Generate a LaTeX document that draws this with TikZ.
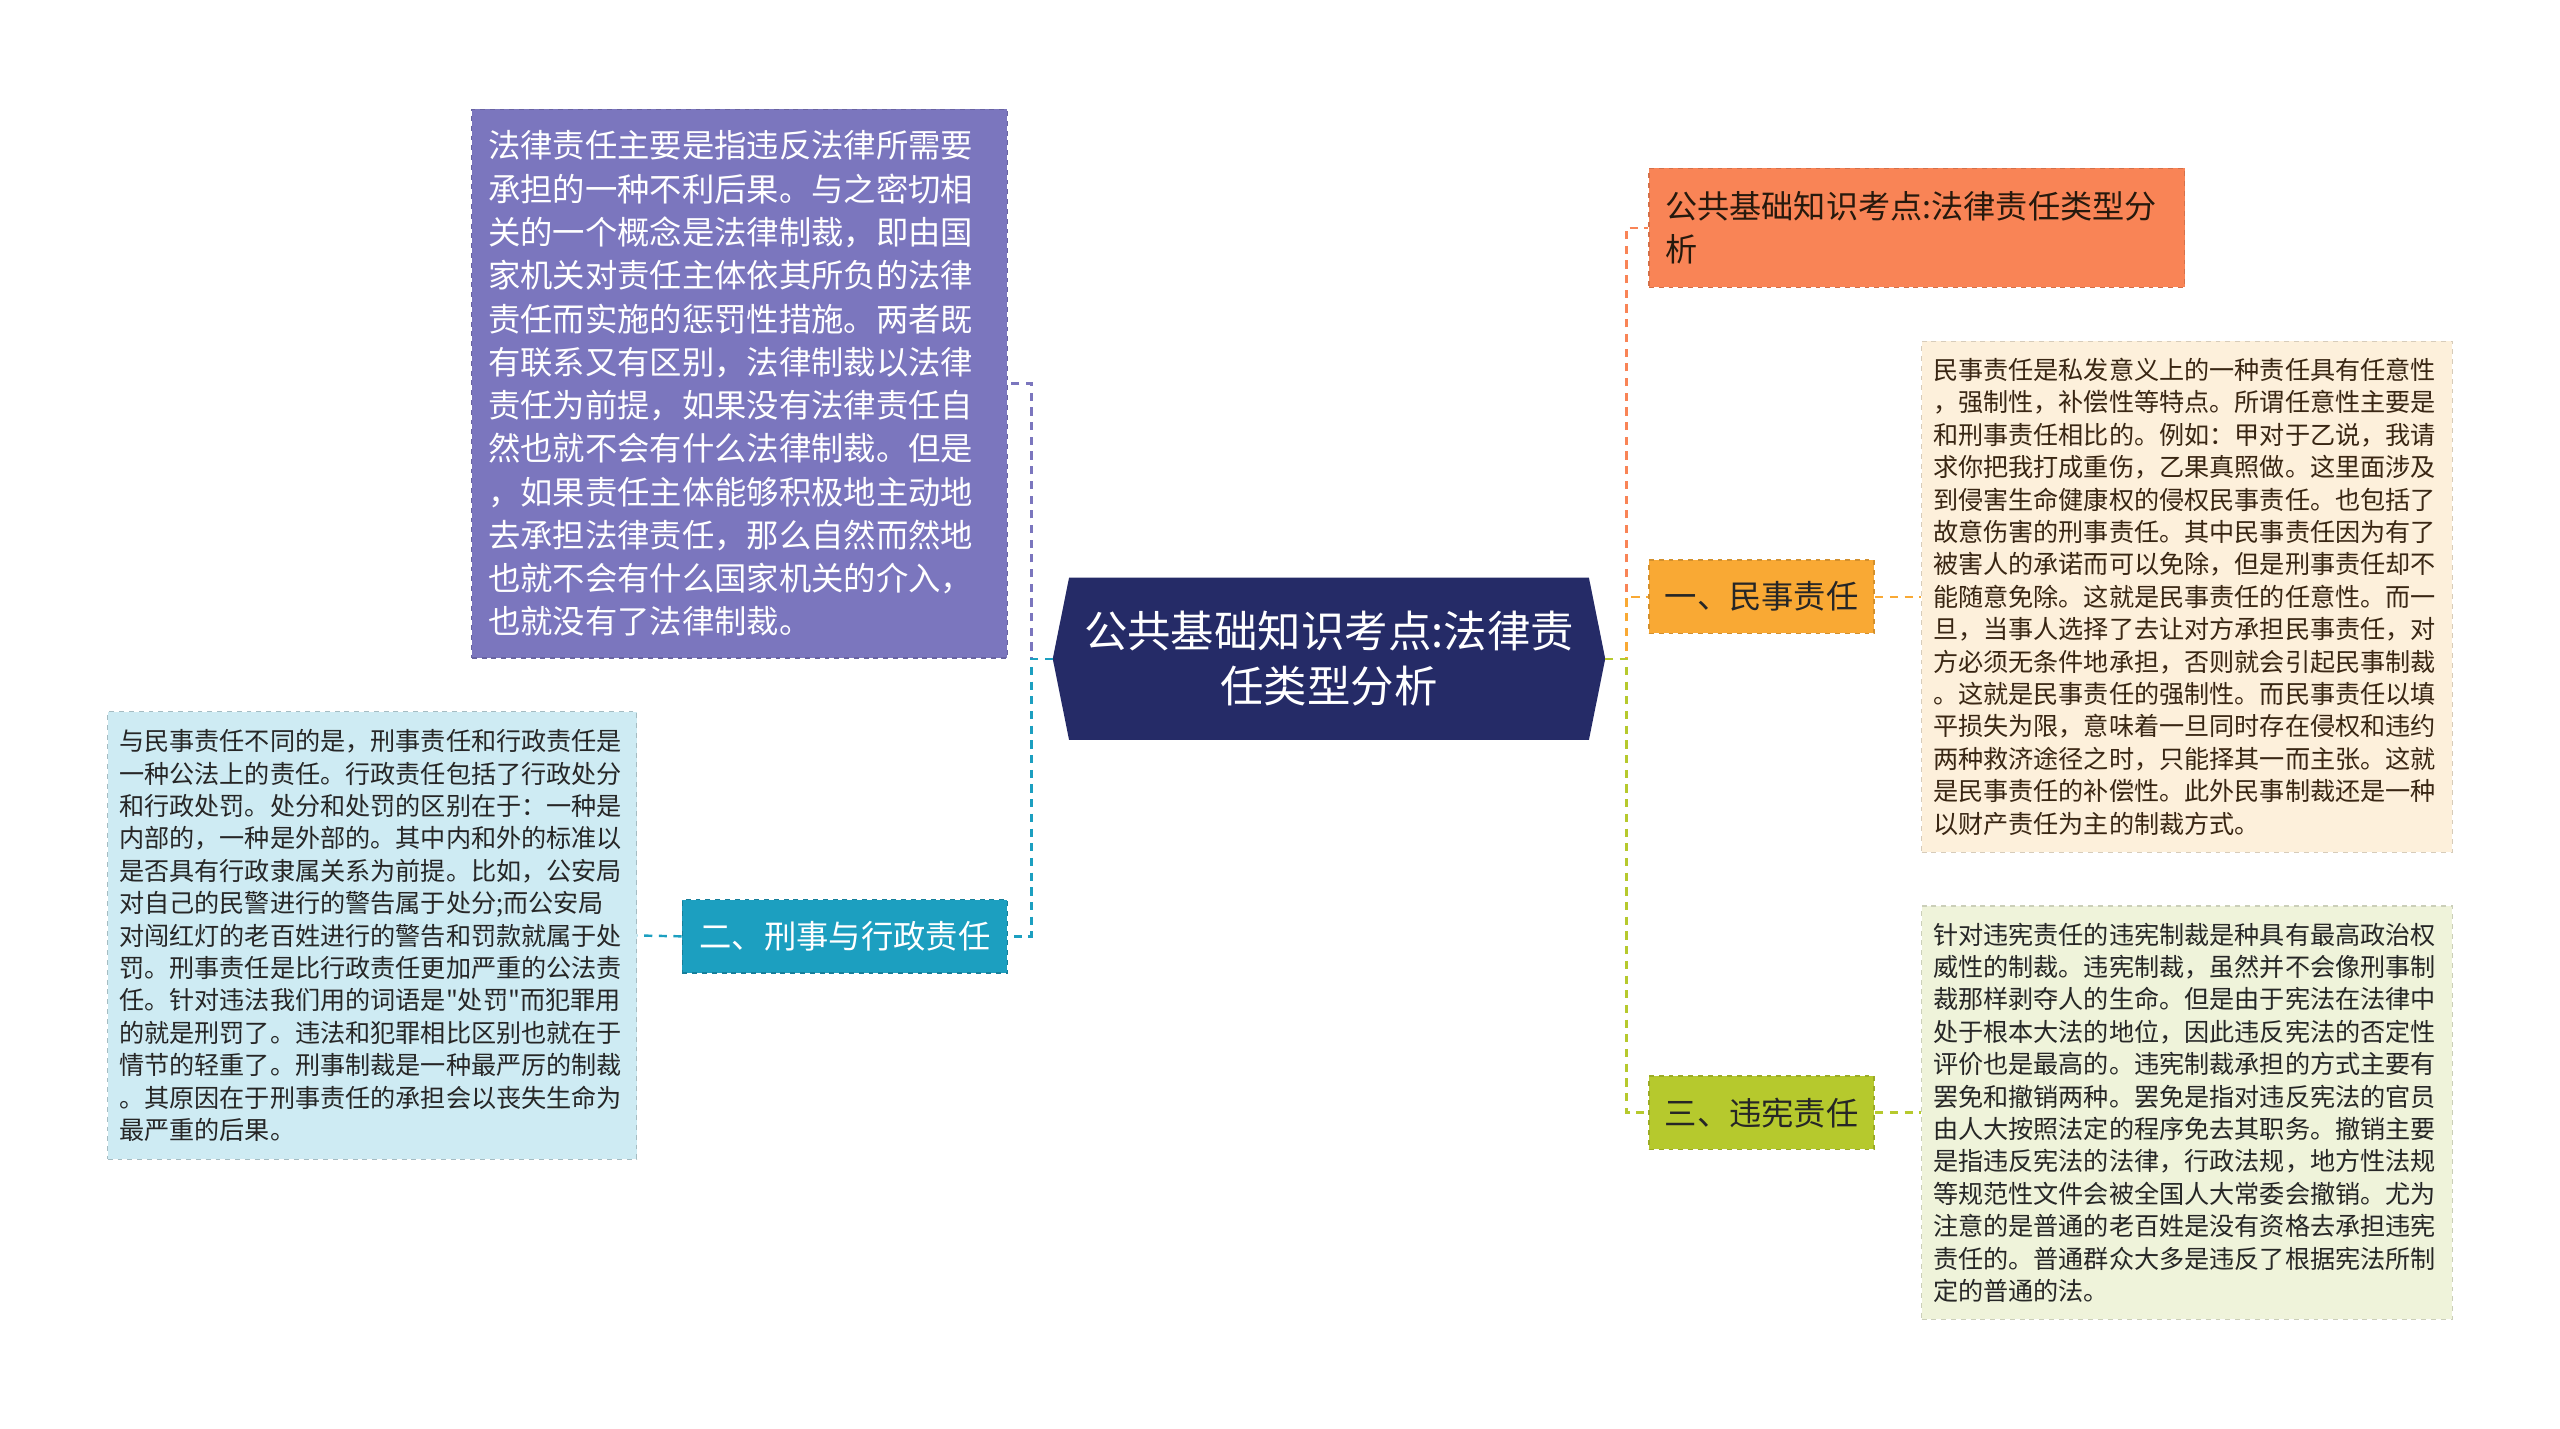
\documentclass[tikz,border=0pt]{standalone}
\usepackage{fontspec}
\newfontfamily\cjk{Noto Sans CJK SC}
\usetikzlibrary{calc}
\pgfdeclarelayer{background}
\pgfsetlayers{background,main}

\definecolor{rootnavy}{HTML}{252B67}
\definecolor{lawpurple}{HTML}{7B76BE}
\definecolor{lawteal}{HTML}{1C9FC0}
\definecolor{lawcoral}{HTML}{F98456}
\definecolor{lawamber}{HTML}{F9A934}
\definecolor{lawolive}{HTML}{B6C92D}
\definecolor{noteblue}{HTML}{CEEBF3}
\definecolor{notecream}{HTML}{FDF0DB}
\definecolor{notegreen}{HTML}{EFF3DA}

\tikzset{
  topic/.style={rectangle, draw, dashed, line width=1pt, inner sep=0pt, align=center,
    minimum height=45, font=\cjk\fontsize{19.8}{26}\selectfont},
  note/.style={rectangle, draw, dashed, line width=0.8pt, inner ysep=0pt, align=left,
    font=\cjk\fontsize{15.4}{19.85}\selectfont},
  link/.style={line width=1.5pt, dash pattern=on 5pt off 4pt},
}

\begin{document}
\begin{tikzpicture}[x=1pt, y=-1pt]
  \useasboundingbox (0,0) rectangle (1568,875);

  % centre
  \node[minimum width=338, minimum height=99, inner sep=0pt, align=center, text=white,
    font=\cjk\fontsize{26.6}{34}\selectfont] (root) at (814,403.5)
    {公共基础知识考点:法律责\\任类型分析};
  \begin{pgfonlayer}{background}
    \fill[rootnavy] (root.west) -- ($(root.north west)+(10,0)$) -- ($(root.north east)+(-10,0)$)
      -- (root.east) -- ($(root.south east)+(-10,0)$) -- ($(root.south west)+(10,0)$) -- cycle;
  \end{pgfonlayer}

  % left side
  \node[note, fill=lawpurple, draw=lawpurple!85!black, text=white, text width=308, inner xsep=10,
    minimum height=336, font=\cjk\fontsize{19.8}{26.5}\selectfont] (def) at (453,235)
    {法律责任主要是指违反法律所需要\\承担的一种不利后果。与之密切相\\关的一个概念是法律制裁，即由国\\家机关对责任主体依其所负的法律\\责任而实施的惩罚性措施。两者既\\有联系又有区别，法律制裁以法律\\责任为前提，如果没有法律责任自\\然也就不会有什么法律制裁。但是\\，如果责任主体能够积极地主动地\\去承担法律责任，那么自然而然地\\也就不会有什么国家机关的介入，\\也就没有了法律制裁。};
  \node[topic, fill=lawteal, draw=lawteal!80!black, text=white, minimum width=199] (b2) at (517.5,573.5)
    {二、刑事与行政责任};
  \node[note, fill=noteblue, draw=noteblue!80!black, text=black!85, text width=310, inner xsep=7,
    minimum height=274] (d2) at (228,573)
    {与民事责任不同的是，刑事责任和行政责任是\\一种公法上的责任。行政责任包括了行政处分\\和行政处罚。处分和处罚的区别在于：一种是\\内部的，一种是外部的。其中内和外的标准以\\是否具有行政隶属关系为前提。比如，公安局\\对自己的民警进行的警告属于处分;而公安局\\对闯红灯的老百姓进行的警告和罚款就属于处\\罚。刑事责任是比行政责任更加严重的公法责\\任。针对违法我们用的词语是"处罚"而犯罪用\\的就是刑罚了。违法和犯罪相比区别也就在于\\情节的轻重了。刑事制裁是一种最严厉的制裁\\。其原因在于刑事责任的承担会以丧失生命为\\最严重的后果。};

  % right side
  \node[note, fill=lawcoral, draw=lawcoral!85!black, text=black!80!brown, text width=308, inner xsep=10,
    minimum height=73, font=\cjk\fontsize{19.7}{26}\selectfont] (title) at (1174,139.5)
    {公共基础知识考点:法律责任类型分\\析};
  \node[topic, fill=lawamber, draw=lawamber!85!black, text=black!85, minimum width=138] (b1) at (1079,365.5)
    {一、民事责任};
  \node[topic, fill=lawolive, draw=lawolive!85!black, text=black!85, minimum width=138] (b3) at (1079,681.5)
    {三、违宪责任};
  \node[note, fill=notecream, draw=notecream!85!black, text=black!70!brown, text width=311, inner xsep=7,
    minimum height=313] (d1) at (1339.5,365.5)
    {民事责任是私发意义上的一种责任具有任意性\\，强制性，补偿性等特点。所谓任意性主要是\\和刑事责任相比的。例如：甲对于乙说，我请\\求你把我打成重伤，乙果真照做。这里面涉及\\到侵害生命健康权的侵权民事责任。也包括了\\故意伤害的刑事责任。其中民事责任因为有了\\被害人的承诺而可以免除，但是刑事责任却不\\能随意免除。这就是民事责任的任意性。而一\\旦，当事人选择了去让对方承担民事责任，对\\方必须无条件地承担，否则就会引起民事制裁\\。这就是民事责任的强制性。而民事责任以填\\平损失为限，意味着一旦同时存在侵权和违约\\两种救济途径之时，只能择其一而主张。这就\\是民事责任的补偿性。此外民事制裁还是一种\\以财产责任为主的制裁方式。};
  \node[note, fill=notegreen, draw=notegreen!85!black, text=black!85, text width=311, inner xsep=7,
    minimum height=253] (d3) at (1339.5,681.5)
    {针对违宪责任的违宪制裁是种具有最高政治权\\威性的制裁。违宪制裁，虽然并不会像刑事制\\裁那样剥夺人的生命。但是由于宪法在法律中\\处于根本大法的地位，因此违反宪法的否定性\\评价也是最高的。违宪制裁承担的方式主要有\\罢免和撤销两种。罢免是指对违反宪法的官员\\由人大按照法定的程序免去其职务。撤销主要\\是指违反宪法的法律，行政法规，地方性法规\\等规范性文件会被全国人大常委会撤销。尤为\\注意的是普通的老百姓是没有资格去承担违宪\\责任的。普通群众大多是违反了根据宪法所制\\定的普通的法。};

  % connectors
  \draw[link, lawpurple] (root.west) -- ++(-13,0) |- (def.east);
  \draw[link, lawteal] (root.west) -- ++(-13,0) |- (b2.east);
  \draw[link, lawteal] (b2.west) -- (d2.east);
  \draw[link, lawcoral] (root.east) -- ++(13,0) |- (title.west);
  \draw[link, lawamber] (root.east) -- ++(13,0) |- (b1.west);
  \draw[link, lawolive] (root.east) -- ++(13,0) |- (b3.west);
  \draw[link, lawamber] (b1.east) -- (d1.west);
  \draw[link, lawolive] (b3.east) -- (d3.west);
\end{tikzpicture}
\end{document}
